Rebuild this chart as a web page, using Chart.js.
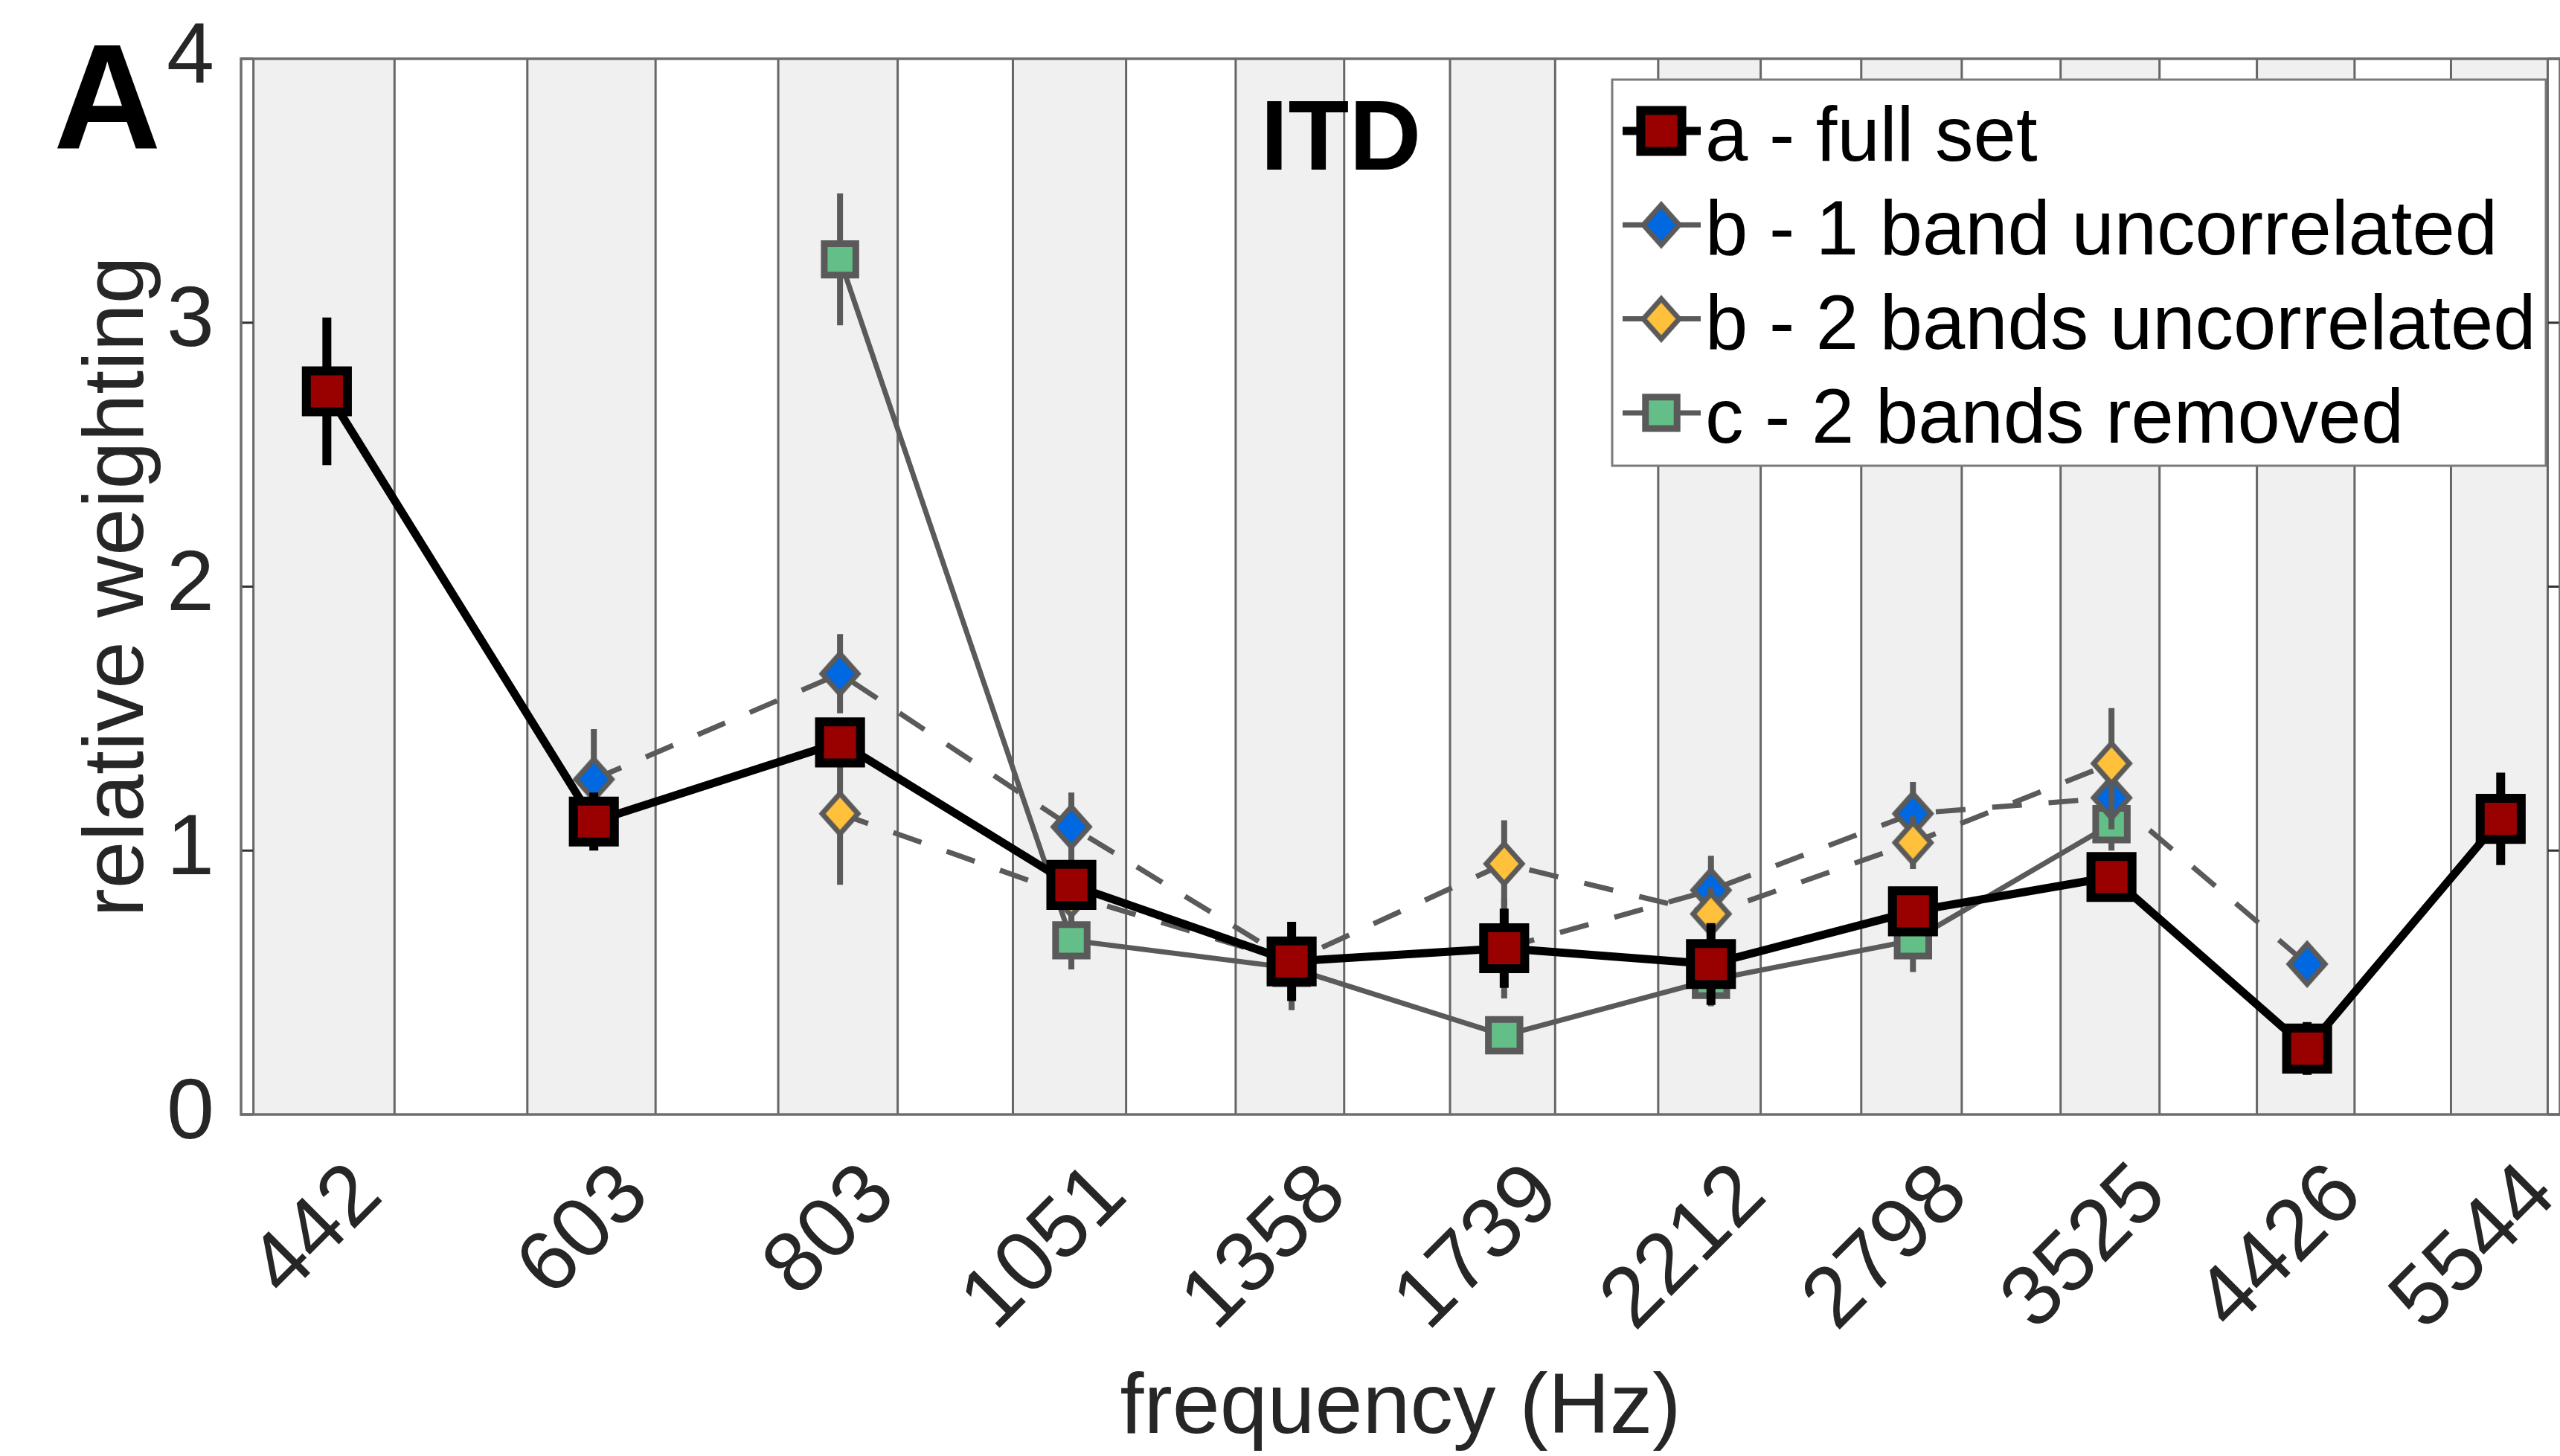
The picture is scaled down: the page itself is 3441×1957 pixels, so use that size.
<!DOCTYPE html>
<html>
<head>
<meta charset="utf-8">
<title>ITD relative weighting</title>
<script src="https://cdn.jsdelivr.net/npm/chart.js@4.4.1/dist/chart.umd.min.js"></script>
<style>
  html, body { margin: 0; padding: 0; background: #fff; }
  canvas { display: block; }
</style>
</head>
<body>
<canvas id="itdChart" width="3441" height="1957"></canvas>
<script>
// centre frequency of each band (Hz) and its tick label
var freqs = [442, 603, 803, 1051, 1358, 1739, 2212, 2798, 3525, 4426, 5544];
var freqLabels = ['442', '603', '803', '1051', '1358', '1739', '2212', '2798', '3525', '4426', '5544'];

// lower / upper edge of each band (Hz), shaded grey
var bandLow  = [405.8, 558.1, 747.3, 981.9, 1272.4, 1632.8, 2080.3, 2634.6, 3322.4, 4174.8, 5232.4];
var bandHigh = [478.2, 647.9, 858.7, 1120.1, 1443.6, 1845.2, 2343.7, 2961.4, 3727.6, 4677.2, 5855.6];

// relative weights (null = band not in that condition) and error half-lengths
var fullSet     = [2.74, 1.11, 1.41, 0.87, 0.58, 0.63, 0.57, 0.77, 0.90, 0.25, 1.12];
var fullSetErr  = [0.28, 0.11, 0.09, 0.08, 0.15, 0.15, 0.155, 0.08, 0.08, 0.10, 0.175];
var oneBand     = [null, 1.27, 1.67, 1.09, 0.58, 0.63, 0.85, 1.14, 1.20, 0.57, null];
var oneBandErr  = [null, 0.19, 0.15, 0.13, 0.10, 0.19, 0.13, 0.12, 0.12, 0.06, null];
var twoBands    = [null, null, 1.14, 0.83, 0.58, 0.95, 0.76, 1.03, 1.33, null, null];
var twoBandsErr = [null, null, 0.27, 0.10, 0.10, 0.165, 0.10, 0.10, 0.21, null, null];
var removed     = [null, null, 3.24, 0.66, 0.555, 0.30, 0.51, 0.66, 1.10, null, null];
var removedErr  = [null, null, 0.25, 0.11, 0.16, 0.05, 0.10, 0.12, 0.10, null, null];

var yTicks = [0, 1, 2, 3, 4];

var FONT = '"Liberation Sans", Arial, Helvetica, sans-serif';
var GREY = '#5a5a5a';

function points(vals, errs) {
  var out = [];
  for (var i = 0; i < freqs.length; i++) {
    if (vals[i] === null) continue;
    out.push({ x: freqs[i], y: vals[i], err: errs[i] });
  }
  return out;
}

// tall diamond marker (matlab style 'd') as an image point style
function diamond(fill) {
  var c = document.createElement('canvas');
  c.width = 64; c.height = 74;
  var g = c.getContext('2d');
  g.beginPath();
  g.moveTo(32, 10); g.lineTo(56, 37); g.lineTo(32, 64); g.lineTo(8, 37);
  g.closePath();
  g.fillStyle = fill;
  g.fill();
  g.lineWidth = 7;
  g.lineJoin = 'miter';
  g.strokeStyle = GREY;
  g.stroke();
  return c;
}

// grey band backgrounds with outlined edges
var bandShading = {
  id: 'bandShading',
  beforeDatasetsDraw: function (chart) {
    var ctx = chart.ctx, area = chart.chartArea, xs = chart.scales.x;
    ctx.save();
    ctx.fillStyle = '#f0f0f0';
    ctx.strokeStyle = '#666';
    ctx.lineWidth = 3;
    for (var i = 0; i < bandLow.length; i++) {
      var x0 = xs.getPixelForValue(bandLow[i]);
      var x1 = xs.getPixelForValue(bandHigh[i]);
      ctx.fillRect(x0, area.top, x1 - x0, area.bottom - area.top);
      ctx.beginPath();
      ctx.moveTo(x0, area.top); ctx.lineTo(x0, area.bottom);
      ctx.moveTo(x1, area.top); ctx.lineTo(x1, area.bottom);
      ctx.stroke();
    }
    ctx.restore();
  }
};

// vertical error bars, drawn just under each dataset's line and markers
var errorBars = {
  id: 'errorBars',
  beforeDatasetDraw: function (chart, args) {
    var ds = chart.data.datasets[args.index];
    var ctx = chart.ctx, xs = chart.scales.x, ys = chart.scales.y;
    ctx.save();
    ctx.strokeStyle = ds.errColor;
    ctx.lineWidth = ds.errWidth;
    ctx.beginPath();
    ds.data.forEach(function (p) {
      if (!p.err) return;
      var px = xs.getPixelForValue(p.x);
      ctx.moveTo(px, ys.getPixelForValue(p.y - p.err));
      ctx.lineTo(px, ys.getPixelForValue(p.y + p.err));
    });
    ctx.stroke();
    ctx.restore();
  }
};

// axes box with inward ticks on both sides
var axesBox = {
  id: 'axesBox',
  afterDatasetsDraw: function (chart) {
    var ctx = chart.ctx, a = chart.chartArea, ys = chart.scales.y;
    ctx.save();
    ctx.strokeStyle = '#333';
    ctx.lineWidth = 3;
    ctx.beginPath();
    yTicks.forEach(function (v) {
      var py = ys.getPixelForValue(v);
      ctx.moveTo(a.left, py); ctx.lineTo(a.left + 16, py);
      ctx.moveTo(a.right, py); ctx.lineTo(a.right - 16, py);
    });
    ctx.stroke();
    ctx.strokeStyle = '#6e6e6e';
    ctx.lineWidth = 3.5;
    ctx.strokeRect(a.left, a.top, a.right - a.left, a.bottom - a.top);
    ctx.restore();
  }
};

// legend box, panel letter and panel title
var overlay = {
  id: 'overlay',
  afterDraw: function (chart) {
    var ctx = chart.ctx, a = chart.chartArea;
    var xs = chart.scales.x, ys = chart.scales.y;
    ctx.save();

    ctx.fillStyle = '#000';
    ctx.textBaseline = 'alphabetic';
    ctx.textAlign = 'left';
    ctx.font = 'bold 200px ' + FONT;
    ctx.fillText('A', 72, 199);

    ctx.textAlign = 'center';
    ctx.font = 'bold 134px ' + FONT;
    ctx.fillText('ITD', xs.getPixelForValue(1438), ys.getPixelForValue(3.58));

    var boxL = 2167, boxT = a.top + 28, boxR = 3422, boxB = 626;
    ctx.fillStyle = '#fff';
    ctx.fillRect(boxL, boxT, boxR - boxL, boxB - boxT);
    ctx.strokeStyle = '#7a7a7a';
    ctx.lineWidth = 3;
    ctx.strokeRect(boxL, boxT, boxR - boxL, boxB - boxT);

    ctx.font = '103px ' + FONT;
    ctx.textAlign = 'left';
    chart.data.datasets.forEach(function (ds, i) {
      var base = 216 + i * 126.3;
      var cy = base - 40;
      ctx.strokeStyle = ds.borderColor;
      ctx.lineWidth = ds.borderWidth;
      ctx.setLineDash([]);
      ctx.beginPath();
      ctx.moveTo(2181, cy); ctx.lineTo(2286, cy);
      ctx.stroke();
      ctx.fillStyle = ds.pointBackgroundColor;
      ctx.strokeStyle = ds.pointBorderColor;
      ctx.lineWidth = ds.pointBorderWidth;
      Chart.helpers.drawPoint(ctx, {
        pointStyle: ds.pointStyle, rotation: 0,
        radius: ds.pointRadius, borderWidth: ds.pointBorderWidth
      }, 2233, cy);
      ctx.fillStyle = '#000';
      ctx.fillText(ds.label, 2292, base);
    });
    ctx.restore();
  }
};

var tickFont = { family: FONT, size: 115 };

new Chart(document.getElementById('itdChart'), {
  type: 'line',
  data: {
    datasets: [{
      label: 'a - full set',
      data: points(fullSet, fullSetErr),
      order: 0,
      borderColor: '#000', borderWidth: 11,
      pointStyle: 'rect', pointRadius: 39,
      pointBackgroundColor: '#990000', pointBorderColor: '#000', pointBorderWidth: 12,
      errColor: '#000', errWidth: 12
    }, {
      label: 'b - 1 band uncorrelated',
      data: points(oneBand, oneBandErr),
      order: 2,
      borderColor: GREY, borderWidth: 7, borderDash: [40, 36],
      pointStyle: diamond('#0068e0'), pointRadius: 27,
      pointBackgroundColor: '#0068e0', pointBorderColor: GREY, pointBorderWidth: 7,
      errColor: GREY, errWidth: 8
    }, {
      label: 'b - 2 bands uncorrelated',
      data: points(twoBands, twoBandsErr),
      order: 1,
      borderColor: GREY, borderWidth: 7, borderDash: [40, 36],
      pointStyle: diamond('#ffc13b'), pointRadius: 27,
      pointBackgroundColor: '#ffc13b', pointBorderColor: GREY, pointBorderWidth: 7,
      errColor: GREY, errWidth: 8
    }, {
      label: 'c - 2 bands removed',
      data: points(removed, removedErr),
      order: 3,
      borderColor: GREY, borderWidth: 7,
      pointStyle: 'rect', pointRadius: 30,
      pointBackgroundColor: '#64be87', pointBorderColor: GREY, pointBorderWidth: 9,
      errColor: GREY, errWidth: 8
    }]
  },
  options: {
    responsive: false,
    animation: false,
    devicePixelRatio: 1,
    layout: { autoPadding: false, padding: { top: 79, right: 0, bottom: 0, left: 0 } },
    plugins: { legend: { display: false }, tooltip: { enabled: false } },
    elements: { line: { tension: 0 } },
    scales: {
      x: {
        type: 'logarithmic',
        min: 400,
        max: 5940,
        afterBuildTicks: function (s) { s.ticks = freqs.map(function (f) { return { value: f }; }); },
        afterFit: function (s) { s.height = 459; s.paddingLeft = 0; s.paddingRight = 0; },
        grid: { display: false, drawTicks: false },
        border: { display: false },
        ticks: {
          autoSkip: false, minRotation: 45, maxRotation: 45,
          padding: 41, labelOffset: 56,
          color: '#262626', font: tickFont,
          callback: function (v, i) { return freqLabels[i]; }
        },
        title: {
          display: true, text: 'frequency (Hz)', color: '#262626',
          font: { family: FONT, size: 115, lineHeight: 1.0 },
          padding: { top: 0, bottom: 5 }
        }
      },
      y: {
        min: 0,
        max: 4,
        afterBuildTicks: function (s) { s.ticks = yTicks.map(function (v) { return { value: v }; }); },
        afterFit: function (s) { s.width = 324; s.paddingTop = 0; s.paddingBottom = 0; },
        grid: { display: false, drawTicks: false },
        border: { display: false },
        ticks: { padding: 36, color: '#262626', font: tickFont },
        title: {
          display: true, text: 'relative weighting', color: '#262626',
          font: tickFont, padding: { top: 91, bottom: 0 }
        }
      }
    }
  },
  plugins: [bandShading, errorBars, axesBox, overlay]
});
</script>
</body>
</html>
